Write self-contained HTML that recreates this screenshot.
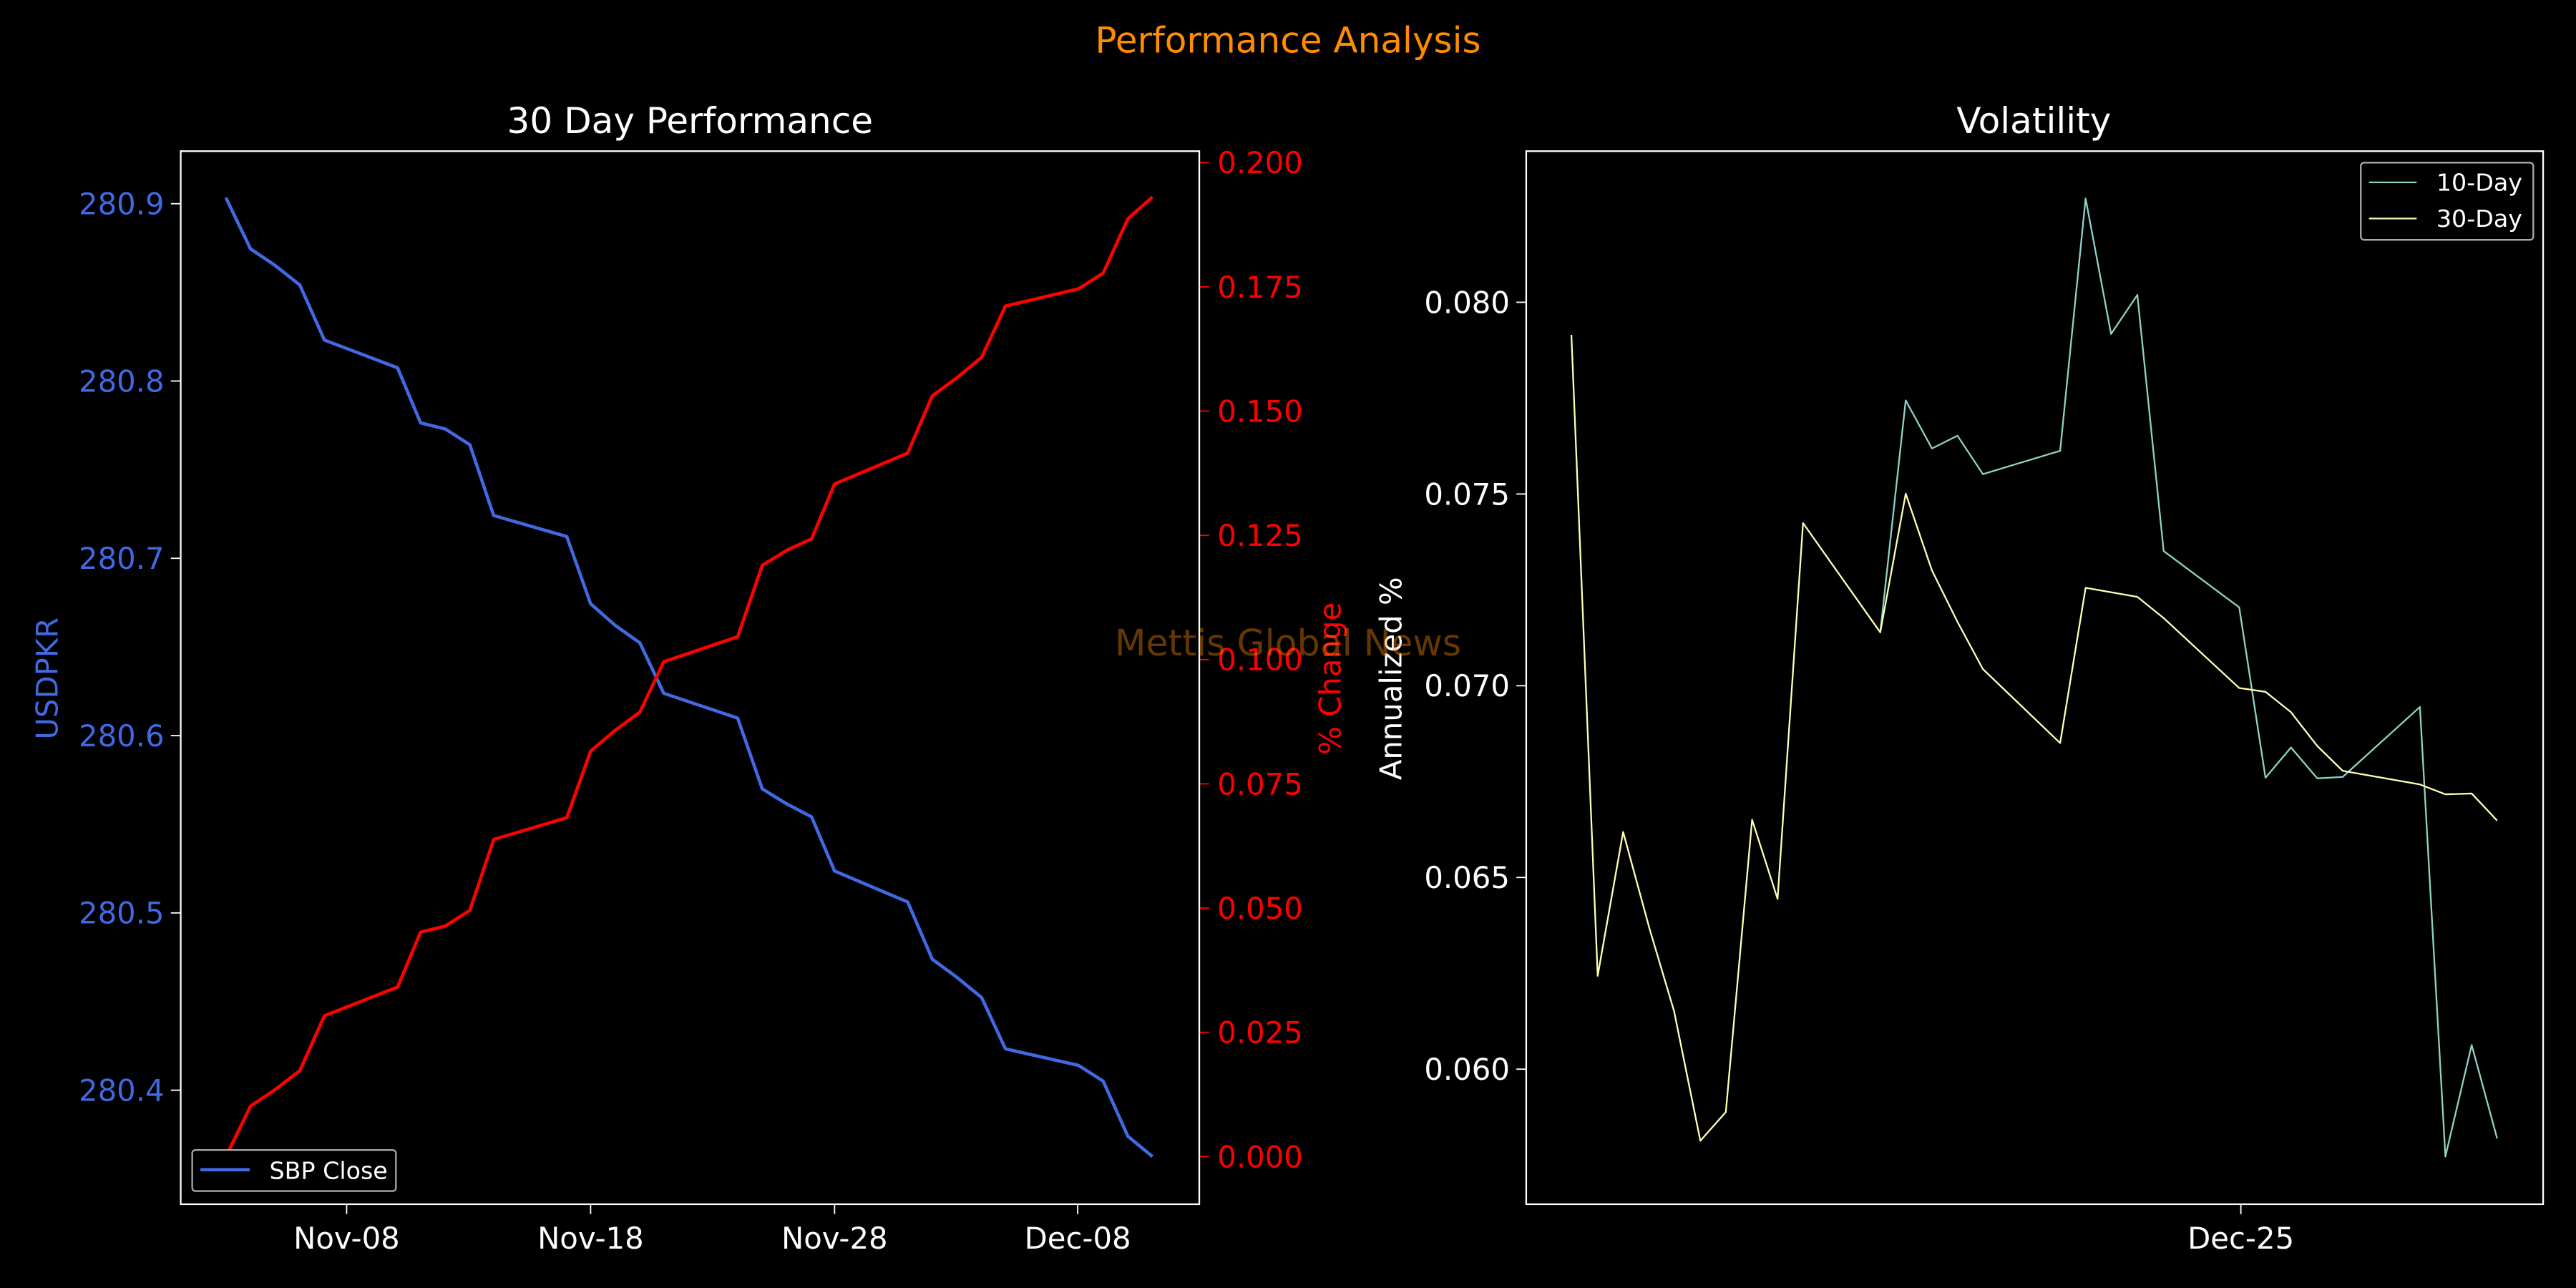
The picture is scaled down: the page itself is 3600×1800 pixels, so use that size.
<!DOCTYPE html>
<html><head><meta charset="utf-8"><style>
html,body{margin:0;padding:0;background:#000;}
svg{display:block;}
text{font-family:"DejaVu Sans","Liberation Sans",sans-serif;}
</style></head><body>
<svg id="s" width="3600" height="1800" viewBox="0 0 1568 784" xmlns="http://www.w3.org/2000/svg">
<rect width="1568" height="784" fill="#000"/>
<text x="784" y="32" font-size="21.8" fill="#ff8c00" text-anchor="middle">Performance Analysis</text>
<text x="420" y="81" font-size="21.8" fill="#fff" text-anchor="middle">30 Day Performance</text>
<text x="1238" y="81" font-size="21.8" fill="#fff" text-anchor="middle">Volatility</text>
<g id="L"></g>
<rect x="110" y="92" width="620" height="641" fill="none" stroke="#fff" stroke-width="1"/>
<rect x="929" y="92" width="619" height="641" fill="none" stroke="#fff" stroke-width="1"/>
<text transform="translate(35,413) rotate(-90)" font-size="18.2" fill="#4169e1" text-anchor="middle">USDPKR</text>
<text transform="translate(816,413) rotate(-90)" font-size="18.2" fill="#ff0000" text-anchor="middle">% Change</text>
<text transform="translate(853,413) rotate(-90)" font-size="18.2" fill="#fff" text-anchor="middle">Annualized %</text>
<text x="784" y="399" font-size="22" fill="#ff8c00" fill-opacity="0.4" text-anchor="middle">Mettis Global News</text>
<rect x="117" y="700" width="124" height="25" rx="2" fill="#000" stroke="#aaa" stroke-width="1"/>
<line x1="122" y1="712" x2="152" y2="712" stroke="#4169e1" stroke-width="2"/>
<text x="164" y="717.5" font-size="14.5" fill="#fff">SBP Close</text>
<rect x="1437" y="99" width="105" height="47" rx="2" fill="#000" stroke="#aaa" stroke-width="1"/>
<line x1="1442" y1="111" x2="1471" y2="111" stroke="#8dd3c7" stroke-width="1"/>
<text x="1483" y="116" font-size="14.5" fill="#fff">10-Day</text>
<line x1="1442" y1="133" x2="1471" y2="133" stroke="#ffffb3" stroke-width="1"/>
<text x="1483" y="138" font-size="14.5" fill="#fff">30-Day</text>
</svg>
<script>
const g=document.getElementById('L');let h='';
const ly=v=>65.3+v*0.4585;
function pl(pts,fx,col,w){return '<polyline fill="none" stroke="'+col+'" stroke-width="'+w+'" stroke-linejoin="round" points="'+pts.map(p=>(fx(p[0])).toFixed(1)+','+ly(p[1]).toFixed(1)).join(' ')+'"/>';}
const blue=[[275,120],[305,188],[335,210],[365,236],[395,309],[484,346],[512,419],[542,427],[572,448],[601,542],[690,570],[719,659],[749,688],[779,711],[808,778],[898,811],[928,905],[958,925],[988,942],[1016,1014],[1105,1055],[1135,1131],[1165,1155],[1195,1182],[1224,1250],[1313,1272],[1343,1293],[1373,1366],[1403,1393]];
const red=[[275,1393],[305,1326],[335,1304],[365,1279],[395,1206],[484,1168],[512,1095],[542,1087],[572,1066],[601,972],[690,943],[719,855],[749,827],[779,803],[808,736],[898,703],[928,608],[958,588],[988,573],[1016,500],[1105,459],[1135,383],[1165,359],[1195,332],[1224,264],[1313,241],[1343,220],[1373,148],[1403,119]];
const d30=[[345,302],[377,1153],[408,962],[440,1090],[470,1200],[502,1372],[533,1334],[565,946],[596,1051],[627,552],[721,697],[752,513],[784,615],[815,683],[846,746],[940,844],[971,638],[1034,650],[1066,678],[1158,771],[1190,776],[1221,803],[1253,848],[1284,881],[1378,899],[1409,912],[1441,911],[1472,947]];
const d10=[[721,697],[752,389],[784,453],[815,436],[846,487],[940,456],[971,121],[1002,301],[1034,249],[1066,589],[1158,664],[1190,890],[1221,850],[1253,891],[1284,889],[1378,796],[1409,1393],[1441,1245],[1472,1369]];
const fl=x=>x*0.5, fr=x=>784+x*0.5;
h+=pl(blue,fl,'#4169e1',2)+pl(red,fl,'#ff0000',2)+pl(d10,fr,'#8dd3c7',1)+pl(d30,fr,'#ffffb3',1);
for(let i=0;i<6;i++){const v=(280.9-i*0.1).toFixed(1);const y=124+i*(663.6-124)/5;
h+='<line x1="104" y1="'+y+'" x2="110" y2="'+y+'" stroke="#fff" stroke-width="0.8"/><text x="100" y="'+(y+6.5)+'" font-size="18.2" fill="#4169e1" text-anchor="end">'+v+'</text>';}
for(let i=0;i<9;i++){const v=(i*0.025).toFixed(3);const y=704-i*(704-99)/8;
h+='<line x1="730" y1="'+y+'" x2="736" y2="'+y+'" stroke="#ff0000" stroke-width="0.8"/><text x="741" y="'+(y+6.5)+'" font-size="18.2" fill="#ff0000">'+v+'</text>';}
[['Nov-08',211],['Nov-18',359.5],['Nov-28',508],['Dec-08',656]].forEach(t=>{h+='<line x1="'+t[1]+'" y1="733" x2="'+t[1]+'" y2="739" stroke="#fff" stroke-width="0.8"/><text x="'+t[1]+'" y="760" font-size="18.2" fill="#fff" text-anchor="middle">'+t[0]+'</text>';});
for(let i=0;i<5;i++){const v=(0.080-i*0.005).toFixed(3);const y=184+i*(650.8-184)/4;
h+='<line x1="923" y1="'+y+'" x2="929" y2="'+y+'" stroke="#fff" stroke-width="0.8"/><text x="919" y="'+(y+6.5)+'" font-size="18.2" fill="#fff" text-anchor="end">'+v+'</text>';}
h+='<line x1="1364" y1="733" x2="1364" y2="739" stroke="#fff" stroke-width="0.8"/><text x="1364" y="760" font-size="18.2" fill="#fff" text-anchor="middle">Dec-25</text>';
g.innerHTML=h;
</script>
</body></html>
